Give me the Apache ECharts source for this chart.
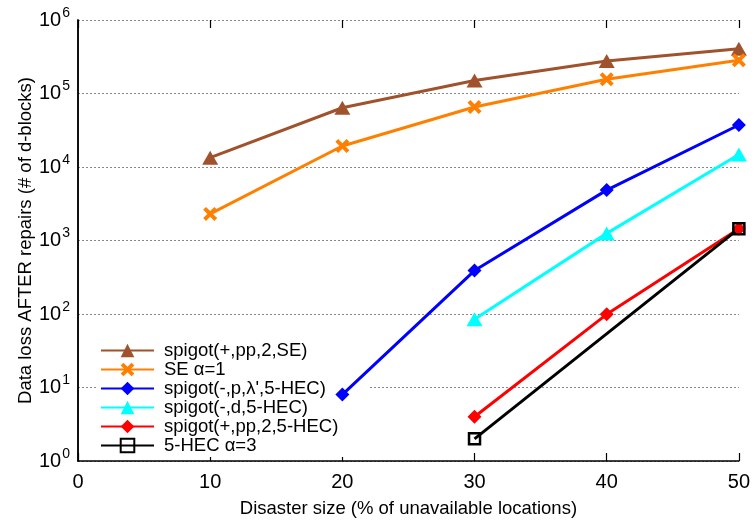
<!DOCTYPE html>
<html>
<head>
<meta charset="utf-8">
<script src="https://cdn.jsdelivr.net/npm/echarts@6/dist/echarts.min.js"></script>
<style>
  html, body { margin: 0; padding: 0; background: #fff; }
  #chart { width: 753px; height: 523px; }
</style>
</head>
<body>
<div id="chart"></div>
<script>
// Disaster size (% of unavailable locations)
const disasterSize = [10, 20, 30, 40, 50];

// Data loss after repairs (# of d-blocks); null = not measured
const spigotPpSE      = [13400, 64000, 150000, 277000, 405000];
const seAlpha1        = [2300, 19300, 65500, 156000, 283000];
const spigotPLambda   = [null, 8, 390, 4850, 37300];
const spigotD5HEC     = [null, null, 85, 1250, 14800];
const spigotPp5HEC    = [null, null, 4, 99, 1450];
const hec5Alpha3      = [null, null, 2, null, 1450];

const seriesNames = [
  'spigot(+,pp,2,SE)',
  'SE \u03b1=1',
  "spigot(-,p,\u03bb',5-HEC)",
  'spigot(-,d,5-HEC)',
  'spigot(+,pp,2,5-HEC)',
  '5-HEC \u03b1=3'
];

const xTicks = { min: 0, max: 50, interval: 10 };
const yTicks = { min: 1, max: 1e6 };

const FONT = 'Liberation Sans, Arial, Helvetica, sans-serif';
const X_MARK = 'path://M0,2 L2,0 L5,3 L8,0 L10,2 L7,5 L10,8 L8,10 L5,7 L2,10 L0,8 L3,5 Z';

function pairs(values) {
  const out = [];
  values.forEach((v, i) => { if (v !== null) out.push([disasterSize[i], v]); });
  return out;
}

function lineSeries(name, values, color, symbol, size, itemStyle) {
  return {
    name: name,
    type: 'line',
    z: 3,
    data: pairs(values),
    symbol: symbol,
    symbolSize: size,
    showAllSymbol: true,
    lineStyle: { color: color, width: 3 },
    itemStyle: Object.assign({ color: color }, itemStyle || {}),
    emphasis: { disabled: true },
    animation: false
  };
}

const chart = echarts.init(document.getElementById('chart'), null, { renderer: 'canvas' });

chart.setOption({
  backgroundColor: '#fff',
  animation: false,
  grid: { left: 78, right: 9, top: 20, bottom: 62, containLabel: false },
  legend: {
    z: 1,
    orient: 'vertical',
    left: 97,
    top: 339,
    backgroundColor: '#fff',
    padding: [2, 30, 2, 3],
    itemWidth: 53,
    itemHeight: 17,
    itemGap: 0,
    textStyle: { fontFamily: FONT, fontSize: 18.5, lineHeight: 19, color: '#000', padding: [0, 0, 0, 5] },
    data: seriesNames
  },
  xAxis: [
    {
      type: 'value',
      position: 'bottom',
      min: xTicks.min, max: xTicks.max, interval: xTicks.interval,
      name: 'Disaster size (% of unavailable locations)',
      nameLocation: 'middle',
      nameMoveOverlap: false,
      nameGap: 38,
      nameTextStyle: { fontFamily: FONT, fontSize: 18.5, color: '#000' },
      axisLine: { show: true, lineStyle: { color: '#000', width: 1.5 } },
      axisTick: { show: true, inside: true, length: 8, lineStyle: { color: '#000', width: 1.2 } },
      axisLabel: { fontFamily: FONT, fontSize: 20, color: '#000', margin: 11 },
      splitLine: { show: false }
    },
    {
      type: 'value',
      position: 'top',
      min: xTicks.min, max: xTicks.max, interval: xTicks.interval,
      axisLine: { show: false },
      axisTick: { show: true, inside: true, length: 8, lineStyle: { color: '#000', width: 1.2 } },
      axisLabel: { show: false },
      splitLine: { show: false }
    }
  ],
  yAxis: [
    {
      type: 'log',
      logBase: 10,
      min: yTicks.min, max: yTicks.max,
      name: 'Data loss AFTER repairs (# of d-blocks)',
      nameLocation: 'middle',
      nameMoveOverlap: false,
      nameGap: 43,
      nameTextStyle: { fontFamily: FONT, fontSize: 18.5, color: '#000' },
      axisLine: { show: true, lineStyle: { color: '#000', width: 1.5 } },
      axisTick: { show: false },
      minorTick: { show: false },
      axisLabel: {
        margin: 8,
        formatter: function (v) {
          return '{b|10}{s|' + Math.round(Math.log10(v)) + '}';
        },
        rich: {
          b: { fontFamily: FONT, fontSize: 20, color: '#000' },
          s: { fontFamily: FONT, fontSize: 14, color: '#000', padding: [0, 0, 14, 1] }
        }
      },
      splitLine: { show: true, lineStyle: { color: '#888', width: 1, type: [2, 2] } }
    },
    {
      type: 'value',
      position: 'right',
      min: 0, max: 1,
      axisLine: { show: true, lineStyle: { color: '#000', width: 1.5 } },
      axisTick: { show: false },
      axisLabel: { show: false },
      splitLine: { show: false }
    }
  ],
  series: [
    lineSeries(seriesNames[0], spigotPpSE, '#a0522d', 'triangle', [16, 14]),
    lineSeries(seriesNames[1], seAlpha1, '#ff8000', X_MARK, 14),
    lineSeries(seriesNames[2], spigotPLambda, '#0000ff', 'diamond', 14),
    lineSeries(seriesNames[3], spigotD5HEC, '#00ffff', 'triangle', [16, 14]),
    lineSeries(seriesNames[4], spigotPp5HEC, '#ff0000', 'diamond', 14),
    lineSeries(seriesNames[5], hec5Alpha3, '#000000', 'rect', 11,
      { color: 'rgba(255,255,255,0)', borderColor: '#000000', borderWidth: 2.5 })
  ]
});
</script>
</body>
</html>
